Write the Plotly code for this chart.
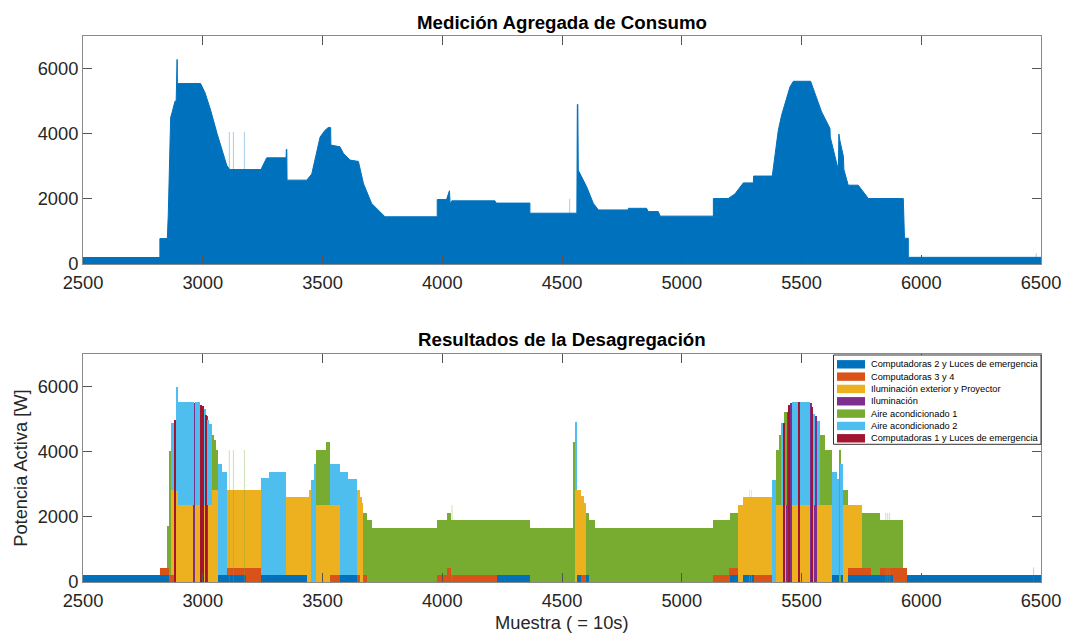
import plotly.graph_objects as go

# ---------------- aggregate measurement (envelope breakpoints) ----------------
agg_x = [2500, 2821, 2821, 2852, 2856, 2866, 2872, 2884, 2889, 2890, 2893, 2894,
         2991, 3010, 3033, 3060, 3100, 3112, 3243, 3267, 3348, 3349, 3351, 3352,
         3434, 3455, 3490, 3510, 3524, 3534, 3535, 3573, 3587, 3615, 3650, 3671,
         3705, 3761, 3979, 3979, 4018, 4030, 4033, 4040, 4220, 4225, 4366, 4366,
         4562, 4564, 4566, 4568, 4603, 4631, 4652, 4777, 4777, 4853, 4860, 4902,
         4910, 5132, 5132, 5194, 5222, 5257, 5299, 5300, 5378, 5403, 5417, 5452,
         5466, 5538, 5584, 5619, 5620, 5654, 5656, 5660, 5675, 5677, 5695, 5737,
         5779, 5925, 5930, 5946, 5946, 6500]
agg_y = [200, 200, 780, 780, 1500, 4500, 4650, 5000, 5000, 6280, 6280, 5540,
         5540, 5250, 4720, 4000, 3035, 2900, 2900, 3260, 3260, 3520, 3520, 2575,
         2575, 2760, 3900, 4100, 4190, 4190, 3650, 3600, 3400, 3190, 3150, 2470,
         1860, 1450, 1450, 1980, 1980, 2250, 1850, 1940, 1940, 1870, 1870, 1560,
         1560, 4900, 4900, 2880, 2370, 1860, 1660, 1660, 1710, 1710, 1610, 1610,
         1470, 1470, 2010, 2010, 2150, 2490, 2490, 2700, 2700, 4100, 4570, 5440,
         5610, 5610, 4670, 4160, 3900, 2880, 3990, 3800, 3300, 2900, 2420, 2420,
         2010, 2010, 790, 790, 205, 205]

# short transients visible above the envelope
agg_spike_x = [3111, 3128, 3174, 4532, 6480]
agg_spike_y = [4050, 4050, 4050, 2000, 330]

# ---------------- disaggregation result (piecewise segments) ----------------
x_end = 6500
seg_start = [2500, 2821, 2852, 2860, 2868, 2882, 2889, 2896, 2962, 2967, 2990, 2996,
             3000, 3004, 3012, 3016, 3020, 3026, 3038, 3048, 3056, 3064, 3080, 3100,
             3180, 3242, 3277, 3347, 3434, 3444, 3456, 3464, 3474, 3513, 3530, 3574,
             3608, 3643, 3657, 3664, 3671, 3685, 3705, 3979, 4018, 4035, 4227, 4366,
             4550, 4556, 4562, 4580, 4592, 4600, 4614, 4638, 5132, 5196, 5202, 5233,
             5254, 5300, 5378, 5392, 5404, 5416, 5424, 5430, 5438, 5444, 5452, 5460,
             5486, 5490, 5536, 5542, 5550, 5556, 5563, 5577, 5598, 5626, 5647, 5658,
             5662, 5675, 5695, 5751, 5790, 5829, 5883, 5925, 5939]
comp2 = [200, 200, 200, 0, 0, 0, 0, 0, 0, 0, 0, 0,
         0, 0, 0, 0, 0, 0, 0, 0, 0, 200, 200, 200,
         0, 200, 200, 200, 0, 0, 0, 0, 0, 0, 0, 200,
         200, 0, 0, 0, 0, 0, 0, 0, 0, 0, 200, 0,
         0, 0, 200, 0, 0, 200, 0, 0, 0, 0, 200, 0,
         200, 0, 0, 0, 0, 0, 0, 0, 0, 0, 0, 0,
         0, 0, 0, 0, 0, 0, 0, 0, 0, 200, 200, 0,
         200, 0, 200, 200, 200, 200, 0, 0, 200]
comp34 = [0, 230, 230, 230, 230, 0, 0, 0, 0, 0, 0, 0,
          0, 0, 0, 0, 0, 0, 0, 0, 0, 0, 0, 230,
          430, 0, 0, 0, 0, 0, 0, 0, 0, 0, 230, 0,
          0, 230, 0, 0, 230, 0, 0, 200, 430, 200, 0, 0,
          0, 0, 0, 230, 230, 0, 0, 0, 200, 430, 230, 0,
          0, 200, 0, 0, 0, 0, 0, 0, 0, 0, 0, 0,
          0, 0, 0, 0, 0, 0, 0, 0, 0, 0, 0, 0,
          0, 0, 230, 230, 0, 230, 430, 430, 0]
ilum_ext = [0, 0, 0, 0, 2600, 0, 2800, 2360, 0, 2360, 0, 0,
            0, 2360, 0, 0, 2360, 2360, 2820, 2820, 2820, 0, 0, 2390,
            2390, 0, 0, 2400, 2600, 2820, 0, 0, 2360, 2360, 2130, 0,
            0, 2590, 2620, 2420, 0, 0, 0, 0, 0, 0, 0, 0,
            0, 2820, 2620, 2400, 2190, 0, 0, 0, 0, 0, 0, 2360,
            2400, 2400, 0, 2360, 2360, 2360, 0, 2360, 0, 0, 0, 2360,
            0, 2360, 0, 0, 2360, 0, 2360, 2360, 2360, 0, 0, 0,
            0, 2360, 1930, 0, 0, 0, 0, 0, 0]
ilum = [0, 0, 0, 0, 0, 0, 0, 0, 5500, 0, 0, 5400,
        0, 0, 0, 5100, 0, 0, 0, 0, 0, 0, 0, 0,
        0, 0, 0, 0, 0, 0, 0, 0, 0, 0, 0, 0,
        0, 0, 0, 0, 0, 0, 0, 0, 0, 0, 0, 0,
        0, 0, 0, 0, 0, 0, 0, 0, 0, 0, 0, 0,
        0, 0, 0, 0, 0, 0, 0, 0, 5230, 0, 5500, 0,
        0, 0, 5500, 0, 0, 5100, 0, 0, 0, 0, 0, 0,
        0, 0, 0, 0, 0, 0, 0, 0, 0]
aire1 = [0, 0, 1300, 3800, 0, 0, 0, 0, 0, 0, 0, 0,
         0, 0, 0, 0, 0, 0, 1700, 1540, 1230, 0, 0, 0,
         0, 0, 0, 0, 0, 0, 0, 0, 1690, 1930, 0, 0,
         0, 0, 0, 0, 1890, 1900, 1670, 1700, 1690, 1700, 1700, 1670,
         4300, 0, 0, 0, 0, 1920, 1900, 1670, 1700, 1470, 1690, 0,
         0, 0, 0, 1690, 2150, 0, 0, 2870, 0, 0, 0, 0,
         0, 0, 0, 0, 0, 0, 0, 2150, 1690, 0, 0, 4050,
         0, 460, 0, 1690, 1920, 1470, 1470, 0, 0]
aire2 = [0, 0, 0, 0, 2050, 0, 3200, 3180, 0, 3180, 0, 0,
         0, 2940, 0, 0, 2620, 2490, 0, 0, 0, 3420, 3185, 0,
         0, 2980, 3185, 0, 0, 0, 3130, 3620, 0, 0, 1260, 3185,
         2950, 0, 0, 0, 0, 0, 0, 0, 0, 0, 0, 0,
         0, 2100, 0, 0, 0, 0, 0, 0, 0, 0, 0, 0,
         0, 0, 3130, 0, 0, 2510, 0, 0, 0, 0, 0, 3180,
         0, 3180, 0, 0, 2800, 0, 2590, 0, 0, 3185, 2950, 0,
         3420, 0, 0, 0, 0, 0, 0, 0, 0]
comp1 = [0, 0, 0, 0, 0, 4980, 0, 0, 0, 0, 5440, 0,
         5400, 0, 5130, 0, 0, 0, 0, 0, 0, 0, 0, 0,
         0, 0, 0, 0, 0, 0, 0, 0, 0, 0, 0, 0,
         0, 0, 0, 0, 0, 0, 0, 0, 0, 0, 0, 0,
         0, 0, 0, 0, 0, 0, 0, 0, 0, 0, 0, 0,
         0, 0, 0, 0, 0, 0, 4870, 0, 0, 5430, 0, 0,
         5540, 0, 0, 5380, 0, 0, 0, 0, 0, 0, 0, 0,
         0, 0, 0, 0, 0, 0, 0, 0, 0]

# faint switching transients in the estimated loads
spk_green_x = [3111, 3128, 3174, 4041, 5852, 5860, 5868]
spk_green_y = [4050, 4050, 4050, 2360, 2120, 2120, 2120]
spk_yellow_x = [5283, 5291]
spk_yellow_y = [2830, 2830]
spk_orange_x = [6469]
spk_orange_y = [450]

names = ["Computadoras 2 y Luces de emergencia", "Computadoras 3 y 4",
         "Iluminación exterior y Proyector", "Iluminación",
         "Aire acondicionado 1", "Aire acondicionado 2",
         "Computadoras 1 y Luces de emergencia"]
series = [comp2, comp34, ilum_ext, ilum, aire1, aire2, comp1]
colors = ["#0072BD", "#D95319", "#EDB120", "#7E2F8E", "#77AC30", "#4DBEEE", "#A2142F"]

FONT = "Liberation Sans, Arial, Helvetica, sans-serif"
TICK_COLOR = "#262626"


def spike_xy(xs, ys):
    px, py = [], []
    for x, y in zip(xs, ys):
        px += [x, x, None]
        py += [0, y, None]
    return px, py


fig = go.Figure()

# --- top panel ---
fig.add_trace(go.Scatter(x=agg_x, y=agg_y, mode="lines", fill="tozeroy",
                         line=dict(color="#0072BD", width=1),
                         fillcolor="#0072BD", showlegend=False,
                         xaxis="x", yaxis="y", hoverinfo="skip"))
sx, sy = spike_xy(agg_spike_x, agg_spike_y)
fig.add_trace(go.Scatter(x=sx, y=sy, mode="lines", opacity=0.35,
                         line=dict(color="#0072BD", width=1),
                         showlegend=False, xaxis="x", yaxis="y", hoverinfo="skip"))

# --- bottom panel ---
for xs, ys, col in [(spk_green_x, spk_green_y, colors[4]),
                    (spk_yellow_x, spk_yellow_y, colors[2]),
                    (spk_orange_x, spk_orange_y, colors[1])]:
    sx, sy = spike_xy(xs, ys)
    fig.add_trace(go.Scatter(x=sx, y=sy, mode="lines", opacity=0.35,
                             line=dict(color=col, width=1),
                             showlegend=False, xaxis="x2", yaxis="y2",
                             hoverinfo="skip"))

widths = [b - a for a, b in zip(seg_start, seg_start[1:] + [x_end])]
for name, vals, col in zip(names, series, colors):
    fig.add_trace(go.Bar(x=seg_start, y=vals, width=widths, offset=0,
                         name=name, marker=dict(color=col, line=dict(width=0)),
                         showlegend=False, xaxis="x2", yaxis="y2"))

axis_common = dict(
    showline=True, linecolor="#8a8a8a", linewidth=1, mirror="ticks",
    ticks="inside", ticklen=9, tickwidth=1, tickcolor="#555555",
    showgrid=False, zeroline=False,
    tickfont=dict(family=FONT, size=18.3, color=TICK_COLOR),
)
xt = [2500, 3000, 3500, 4000, 4500, 5000, 5500, 6000, 6500]
yt = [0, 2000, 4000, 6000]

fig.update_layout(
    width=1075, height=634, autosize=False,
    margin=dict(l=83, r=34, t=36, b=52),
    paper_bgcolor="white", plot_bgcolor="white",
    barmode="stack",
    font=dict(family=FONT, color=TICK_COLOR),
    xaxis=dict(axis_common, range=[2500, 6500], tickvals=xt, anchor="y",
               ticklabelstandoff=2),
    yaxis=dict(axis_common, range=[0, 7000], tickvals=yt, domain=[0.5824, 1], anchor="x"),
    xaxis2=dict(axis_common, range=[2500, 6500], tickvals=xt, anchor="y2",
                ticklabelstandoff=2),
    yaxis2=dict(axis_common, range=[0, 7000], tickvals=yt, domain=[0, 0.4176], anchor="x2"),
)

# titles and axis labels
ann = [
    dict(text="<b>Medición Agregada de Consumo</b>", x=0.5, y=1.0256,
         font=dict(size=18.7, color="black")),
    dict(text="<b>Resultados de la Desagregación</b>", x=0.5, y=0.4441,
         font=dict(size=18.7, color="black")),
    dict(text="Muestra ( = 10s)", x=0.5, y=(582 - 622) / 546,
         font=dict(size=18.3, color=TICK_COLOR)),
    dict(text="Potencia Activa [W]", x=(20.8 - 83) / 958, y=0.2088, textangle=-90,
         font=dict(size=18.3, color=TICK_COLOR)),
]
for a in ann:
    fig.add_annotation(xref="paper", yref="paper", showarrow=False,
                       xanchor="center", yanchor="middle", **a)

# legend box drawn inside the lower panel
PW, PH, X0, YB = 958.0, 546.0, 83.0, 582.0


def px_x(p):
    return (p - X0) / PW


def px_y(p):
    return (YB - p) / PH


fig.add_shape(type="rect", xref="paper", yref="paper",
              x0=px_x(833.5), x1=px_x(1041), y0=px_y(444.3), y1=px_y(355),
              line=dict(color="#333333", width=1), fillcolor="white", layer="above")
for i, (name, col) in enumerate(zip(names, colors)):
    cy = 364.3 + 12.33 * i
    fig.add_shape(type="rect", xref="paper", yref="paper",
                  x0=px_x(837), x1=px_x(865), y0=px_y(cy + 4.2), y1=px_y(cy - 4.2),
                  line=dict(width=0), fillcolor=col, layer="above")
    fig.add_annotation(xref="paper", yref="paper", x=px_x(868.5), y=px_y(cy),
                       xanchor="left", yanchor="middle", showarrow=False,
                       text=name, font=dict(size=9.25, color="black"))

fig.write_html("out.html")
